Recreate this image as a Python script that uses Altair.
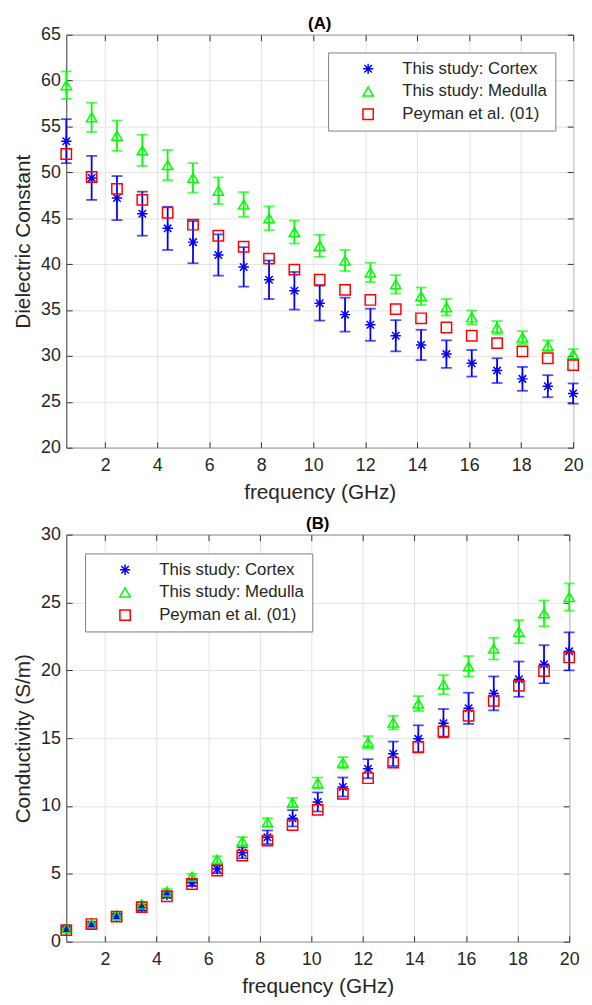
import altair as alt
import pandas as pd

# ---------------- data ----------------
freq = [0.5, 1.475, 2.45, 3.425, 4.4, 5.375, 6.35, 7.325, 8.3, 9.275, 10.25,
        11.225, 12.2, 13.175, 14.15, 15.125, 16.1, 17.075, 18.05, 19.025, 20.0]

series_names = ["This study: Cortex", "This study: Medulla", "Peyman et al. (01)"]

# (A) dielectric constant
eps_cortex = [53.4, 49.4, 47.2, 45.5, 43.9, 42.4, 41.0, 39.7, 38.3, 37.1, 35.75,
              34.5, 33.4, 32.2, 31.2, 30.2, 29.2, 28.4, 27.5, 26.7, 25.9]
eps_cortex_err = [2.4, 2.4, 2.4, 2.4, 2.35, 2.3, 2.25, 2.15, 2.1, 2.05, 1.9,
                  1.85, 1.75, 1.7, 1.65, 1.5, 1.45, 1.35, 1.3, 1.2, 1.1]
eps_medulla = [59.5, 56.0, 54.0, 52.4, 50.8, 49.4, 48.0, 46.5, 45.0, 43.5, 42.0,
               40.4, 39.1, 37.8, 36.5, 35.3, 34.2, 33.1, 32.0, 31.1, 30.2]
eps_medulla_err = [1.5, 1.6, 1.65, 1.7, 1.65, 1.6, 1.45, 1.35, 1.3, 1.25, 1.2,
                   1.15, 1.05, 1.0, 0.95, 0.9, 0.75, 0.7, 0.7, 0.6, 0.55]
eps_peyman = [52.0, 49.5, 48.2, 47.0, 45.6, 44.3, 43.1, 41.9, 40.6, 39.4, 38.3,
              37.2, 36.1, 35.1, 34.1, 33.1, 32.2, 31.4, 30.5, 29.75, 29.0]

# (B) conductivity (S/m)
sig_cortex = [0.9, 1.25, 1.85, 2.5, 3.45, 4.35, 5.35, 6.55, 7.7, 9.1, 10.3,
              11.4, 12.75, 13.85, 14.95, 16.1, 17.2, 18.3, 19.35, 20.45, 21.4]
sig_cortex_err = [0.15, 0.15, 0.15, 0.2, 0.2, 0.25, 0.3, 0.4, 0.5, 0.6, 0.7,
                  0.7, 0.7, 0.9, 1.0, 1.05, 1.15, 1.25, 1.3, 1.4, 1.4]
sig_medulla = [1.0, 1.35, 1.95, 2.75, 3.7, 4.8, 6.05, 7.4, 8.8, 10.25, 11.7,
               13.2, 14.7, 16.15, 17.55, 18.95, 20.3, 21.6, 22.85, 24.2, 25.4]
sig_medulla_err = [0.1, 0.1, 0.15, 0.15, 0.2, 0.2, 0.25, 0.3, 0.3, 0.35, 0.4,
                   0.4, 0.45, 0.5, 0.55, 0.7, 0.75, 0.8, 0.85, 0.95, 1.0]
sig_peyman = [0.85, 1.3, 1.85, 2.55, 3.35, 4.25, 5.25, 6.35, 7.45, 8.6, 9.72,
              10.9, 12.05, 13.2, 14.35, 15.5, 16.65, 17.75, 18.85, 19.95, 20.95]

x_ticks = [2, 4, 6, 8, 10, 12, 14, 16, 18, 20]
yA_ticks = [20, 25, 30, 35, 40, 45, 50, 55, 60, 65]
yB_ticks = [0, 5, 10, 15, 20, 25, 30]

# ---------------- styling ----------------
FONT = "Liberation Sans"
TXT = "#262626"
BLUE, GREEN, RED = "#0000ff", "#00ff00", "#ff0000"
ASTERISK = "M-1,0L1,0M0,-1L0,1M-0.72,-0.72L0.72,0.72M-0.72,0.72L0.72,-0.72"


def panel(cortex, cortex_err, medulla, medulla_err, peyman, ydomain, yticks,
          ytitle, title, width, height, legend_orient, legend_offset):
    n = len(freq)
    pts = pd.DataFrame({
        "freq": freq * 3,
        "value": cortex + medulla + peyman,
        "series": [series_names[0]] * n + [series_names[1]] * n + [series_names[2]] * n,
    })

    def bars(vals, errs):
        return pd.DataFrame({
            "freq": freq,
            "lo": [v - e for v, e in zip(vals, errs)],
            "hi": [v + e for v, e in zip(vals, errs)],
        })

    def caps(vals, errs):
        return pd.DataFrame({
            "freq": freq + freq,
            "cap": [v - e for v, e in zip(vals, errs)] + [v + e for v, e in zip(vals, errs)],
        })

    xscale = alt.Scale(domain=[0.5, 20], nice=False, zero=False)
    yscale = alt.Scale(domain=ydomain, nice=False, zero=False)

    xaxis = alt.Axis(orient="bottom", values=x_ticks, title="frequency (GHz)",
                     offset=-6, tickSize=6, domain=False, grid=True,
                     labelPadding=9, titlePadding=7, labelFlush=False,
                     labelOverlap=False, format="d")
    yaxis = alt.Axis(orient="left", values=yticks, title=ytitle,
                     offset=-6, tickSize=6, domain=False, grid=True,
                     labelPadding=6, titlePadding=7, labelOverlap=False,
                     format="d")

    X = lambda: alt.X("freq:Q", scale=xscale, axis=xaxis)

    layers = []
    for vals, errs, col in [(cortex, cortex_err, BLUE), (medulla, medulla_err, GREEN)]:
        layers.append(
            alt.Chart(bars(vals, errs)).mark_rule(strokeWidth=1.8, color=col).encode(
                x=X(),
                y=alt.Y("lo:Q", scale=yscale, axis=yaxis),
                y2="hi:Q",
            )
        )
        layers.append(
            alt.Chart(caps(vals, errs)).mark_tick(orient="horizontal", size=11,
                                                   thickness=1.8, color=col).encode(
                x=X(),
                y=alt.Y("cap:Q", scale=yscale, axis=yaxis),
            )
        )

    legend = alt.Legend(title=None, orient=legend_orient, offset=legend_offset,
                        padding=8, strokeColor="#808080", fillColor="#ffffff",
                        labelFont=FONT, labelFontSize=17, labelColor=TXT,
                        labelLimit=400, symbolSize=110, symbolStrokeWidth=1.5,
                        symbolOffset=24, labelOffset=26, rowPadding=5)

    layers.append(
        alt.Chart(pts).mark_point(filled=False, size=110, strokeWidth=1.5, opacity=1).encode(
            x=X(),
            y=alt.Y("value:Q", scale=yscale, axis=yaxis),
            color=alt.Color("series:N", scale=alt.Scale(domain=series_names,
                                                          range=[BLUE, GREEN, RED]),
                            legend=legend, sort=series_names),
            shape=alt.Shape("series:N", scale=alt.Scale(domain=series_names,
                                                          range=[ASTERISK, "triangle-up", "square"]),
                            legend=legend, sort=series_names),
        )
    )

    main = alt.layer(*layers)

    frame = alt.Chart(pts).mark_point(opacity=0).encode(
        x=alt.X("freq:Q", scale=xscale,
                axis=alt.Axis(orient="top", values=x_ticks, labels=False, title=None,
                              offset=-6, tickSize=6, domain=False, grid=False,
                              minExtent=0, maxExtent=0)),
        y=alt.Y("value:Q", scale=yscale,
                axis=alt.Axis(orient="right", values=yticks, labels=False, title=None,
                              offset=-6, tickSize=6, domain=False, grid=False,
                              minExtent=0, maxExtent=0)),
    )

    return alt.layer(main, frame).resolve_axis(x="independent", y="independent").properties(
        width=width, height=height,
        title=alt.Title(title, font=FONT, fontSize=17, fontWeight="bold",
                        color="#000000", offset=-7, frame="group"),
    )


pA = panel(eps_cortex, eps_cortex_err, eps_medulla, eps_medulla_err, eps_peyman,
           [20, 65], yA_ticks, "Dielectric Constant", "(A)", 513, 418, "top-right", 18)
pB = panel(sig_cortex, sig_cortex_err, sig_medulla, sig_medulla_err, sig_peyman,
           [0, 30], yB_ticks, "Conductivity (S/m)", "(B)", 509, 412, "top-left", 19)

chart = alt.vconcat(pA, pB, spacing=11).resolve_scale(
    color="independent", shape="independent"
).properties(
    padding={"left": 4, "top": 0, "right": 0, "bottom": 0}
).configure_view(
    stroke="#333333", strokeWidth=1
).configure_axis(
    labelFont=FONT, labelFontSize=18, labelColor=TXT,
    titleFont=FONT, titleFontSize=21, titleFontWeight="normal", titleColor=TXT,
    gridColor="#e3e3e3", gridWidth=1, tickColor="#333333", tickWidth=1
)

chart.save("out.html", embed_options={"renderer": "svg", "actions": False})
